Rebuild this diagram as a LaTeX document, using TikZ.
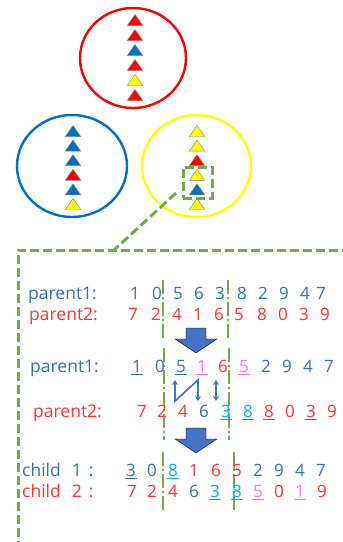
\documentclass[tikz,border=0pt]{standalone}
\usepackage{fontspec}
\setmainfont{Open Sans}
\usetikzlibrary{shapes.geometric,arrows.meta}

\definecolor{cRed}{HTML}{FF0000}
\definecolor{cBlue}{HTML}{0070C0}
\definecolor{cYellow}{HTML}{FFFF00}
\definecolor{cGreen}{HTML}{70AD47}
\definecolor{txBlue}{HTML}{2E75B6}
\definecolor{txRed}{HTML}{FF3333}
\definecolor{txPink}{HTML}{FF70FF}
\definecolor{txCyan}{HTML}{00B0F0}
\definecolor{arBlue}{HTML}{4472C4}

\tikzset{
  ring/.style={draw=#1, ellipse, line width=2.4pt, inner sep=0pt},
  tri/.style={draw=black!50, line width=0.4pt, fill=#1},
  gdash/.style={draw=cGreen, line width=3pt, dash pattern=on 9pt off 4pt},
  cutline/.style={draw=cGreen, line width=1.3pt, dash pattern=on 14pt off 3pt on 2pt off 3pt},
  lbl/.style={anchor=base west, inner sep=0pt, font=\fontsize{17.5}{20}\selectfont},
  dgt/.style={anchor=base, inner sep=0pt, font=\fontsize{17}{20}\selectfont},
  uline/.style={line width=1.2pt},
  swaparrow/.style={draw=arBlue, line width=1.7pt,
    {Stealth[length=5pt,width=6pt]}-{Stealth[length=5pt,width=6pt]}},
  bigarrow/.style={fill=arBlue},
}

% a plain digit and an underlined digit
\newcommand\dg[5]{\node[dgt,text=#4] (#1) at (#2,#3) {#5};}
\newcommand\udg[5]{\node[dgt,text=#4] (#1) at (#2,#3) {#5};
  \draw[uline,#4] ([xshift=-1pt,yshift=-2.8pt]#1.base west) -- ([xshift=1pt,yshift=-2.8pt]#1.base east);}
% a small triangle centred at (x,y)
\newcommand\tri[3]{\filldraw[tri=#3] (#1-7.7,#2+5.5) -- (#1+7.7,#2+5.5) -- (#1,#2-5.5) -- cycle;}

\begin{document}
\begin{tikzpicture}[x=1pt,y=-1pt]
\fill[white] (0,0) rectangle (343,542);
\useasboundingbox (0,0) rectangle (343,542);

% --- three populations ---
\node[ring=cRed, minimum width=106pt, minimum height=100pt] (popR) at (133,58) {};
\node[ring=cBlue, minimum width=110pt, minimum height=102pt] (popB) at (72,166) {};
\node[ring=cYellow, minimum width=109pt, minimum height=102pt] (popY) at (196.5,166) {};

\foreach \c [count=\i from 0] in {cRed,cRed,cBlue,cRed,cYellow,cRed}
  {\tri{135}{20+15*\i}{\c}}
\foreach \c [count=\i from 0] in {cBlue,cBlue,cBlue,cRed,cBlue,cYellow}
  {\tri{73}{131+14.6*\i}{\c}}
\foreach \c [count=\i from 0] in {cYellow,cYellow,cRed,cYellow,cBlue,cYellow}
  {\tri{197}{131+14.6*\i}{\c}}

% selected pair and zoom-out frame
\node[gdash, draw, minimum width=29pt, minimum height=31pt, inner sep=0pt] (pick) at (197.5,182.5) {};
\coordinate (zoomA) at (176,193);
\coordinate (zoomB) at (113,251);
\draw[gdash] (zoomA) -- (zoomB);
\coordinate (boxBL) at (18,550);
\coordinate (boxTL) at (18,250);
\coordinate (boxTR) at (350,250);
\draw[gdash] (boxBL) -- (boxTL) -- (boxTR);

% --- crossover points ---
\coordinate (c1a) at (163,280); \coordinate (c1b) at (163,338);
\coordinate (c2a) at (228,280); \coordinate (c2b) at (228,338);
\coordinate (c3a) at (164,348); \coordinate (c3b) at (164,440);
\coordinate (c4a) at (229,348); \coordinate (c4b) at (229,440);
\coordinate (c5a) at (163,452); \coordinate (c5b) at (163,511);
\coordinate (c6a) at (234,452); \coordinate (c6b) at (234,511);
\foreach \p in {1,...,6} {\draw[cutline] (c\p a) -- (c\p b);}

% --- parents ---
\node[lbl,text=txBlue] (lp1) at (28,299) {parent1:};
\node[lbl,text=txRed] (lp2) at (29,320) {parent2:};
\foreach \x/\d [count=\i] in {135/1,157/0,178/5,199/6,220/3,242/8,263/2,284/9,305/4,321/7}
  {\dg{pa\i}{\x}{299}{txBlue}{\d}}
\foreach \x/\d [count=\i] in {133/7,156/2,177/4,198/1,219/6,239/5,262/8,283/0,304/3,325/9}
  {\dg{pb\i}{\x}{320}{txRed}{\d}}

\filldraw[bigarrow] (186,328) -- (206,328) -- (206,339) -- (217,339) -- (196,353) -- (175,339) -- (186,339) -- cycle;

% --- exchange of the middle segment ---
\node[lbl,text=txBlue] (lq1) at (30,372) {parent1:};
\node[lbl,text=txRed] (lq2) at (33,417) {parent2:};
\udg{qa1}{137}{372}{txBlue}{1}
\dg{qa2}{160}{372}{txBlue}{0}
\udg{qa3}{181}{372}{txBlue}{5}
\udg{qa4}{202}{372}{txPink}{1}
\dg{qa5}{223}{372}{txRed}{6}
\udg{qa6}{244}{372}{txPink}{5}
\dg{qa7}{266}{372}{txBlue}{2}
\dg{qa8}{287}{372}{txBlue}{9}
\dg{qa9}{308}{372}{txBlue}{4}
\dg{qa10}{329}{372}{txBlue}{7}

\dg{qb1}{142}{417}{txRed}{7}
\dg{qb2}{162}{417}{txRed}{2}
\dg{qb3}{183}{417}{txRed}{4}
\dg{qb4}{204}{417}{txBlue}{6}
\udg{qb5}{226}{417}{txCyan}{3}
\udg{qb6}{248}{417}{txCyan}{8}
\udg{qb7}{269}{417}{txRed}{8}
\dg{qb8}{290}{417}{txRed}{0}
\udg{qb9}{311}{417}{txRed}{3}
\dg{qb10}{332}{417}{txRed}{9}

\coordinate (s1) at (175,380); \coordinate (s2) at (175,401);
\coordinate (s3) at (198,380); \coordinate (s4) at (198,401);
\draw[swaparrow] (s1) -- (s2) -- (s3) -- (s4);
\coordinate (t1) at (216,380); \coordinate (t2) at (216,401);
\draw[swaparrow] (t1) -- (t2);

\filldraw[bigarrow] (186,428) -- (206,428) -- (206,439) -- (217,439) -- (196,453) -- (175,439) -- (186,439) -- cycle;

% --- children ---
\node[lbl,text=txBlue] (lc1) at (22,476) {child\hspace{11pt}1\hspace{7pt}:};
\node[lbl,text=txRed] (lc2) at (22,497) {child\hspace{11pt}2\hspace{7pt}:};
\udg{ka1}{131}{476}{txBlue}{3}
\dg{ka2}{152}{476}{txBlue}{0}
\udg{ka3}{173}{476}{txCyan}{8}
\dg{ka4}{194}{476}{txRed}{1}
\dg{ka5}{216}{476}{txRed}{6}
\dg{ka6}{237}{476}{txRed}{5}
\dg{ka7}{258}{476}{txBlue}{2}
\dg{ka8}{279}{476}{txBlue}{9}
\dg{ka9}{300}{476}{txBlue}{4}
\dg{ka10}{321}{476}{txBlue}{7}

\dg{kb1}{132}{497}{txRed}{7}
\dg{kb2}{152}{497}{txRed}{2}
\dg{kb3}{173}{497}{txRed}{4}
\dg{kb4}{194}{497}{txBlue}{6}
\udg{kb5}{215}{497}{txCyan}{3}
\udg{kb6}{237}{497}{txCyan}{8}
\udg{kb7}{258}{497}{txPink}{5}
\dg{kb8}{279}{497}{txRed}{0}
\udg{kb9}{300}{497}{txPink}{1}
\dg{kb10}{322}{497}{txRed}{9}
\end{tikzpicture}
\end{document}
